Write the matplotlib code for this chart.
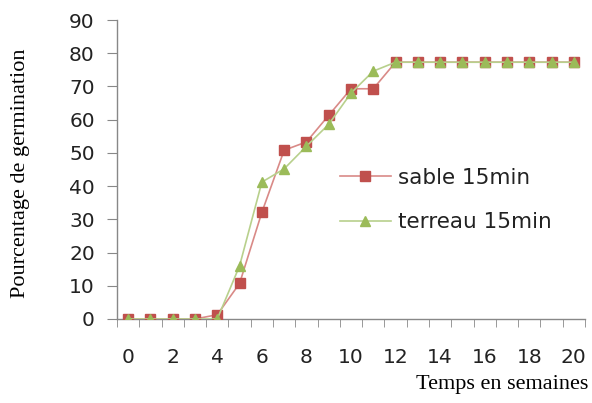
import matplotlib
matplotlib.use("Agg")
import matplotlib.pyplot as plt
import numpy as np

weeks = list(range(0, 21))
sable = [0, 0, 0, 0, 1.3, 10.7, 32.1, 50.8, 53.3, 61.3, 69.3, 69.3,
         77.3, 77.3, 77.3, 77.3, 77.3, 77.3, 77.3, 77.3, 77.3]
terreau = [0, 0, 0, 0, 0, 16.0, 41.2, 45.2, 52.0, 58.6, 68.0, 74.6,
           77.3, 77.3, 77.3, 77.3, 77.3, 77.3, 77.3, 77.3, 77.3]
x_ticklabels = [str(w) for w in weeks[::2]]
y_ticks = list(range(0, 91, 10))

fig = plt.figure(figsize=(5.92, 4.03), dpi=100)
ax = fig.add_axes([117/592, 1 - 319/403, (585-117)/592, (319-20)/403])

ax.plot(weeks, sable, color="#D98A87", lw=1.2, marker="s", ms=6.5,
        mfc="#C0504D", mec="#C0504D", label="sable 15min", zorder=3)
ax.plot(weeks, terreau, color="#B8D08C", lw=1.2, marker="^", ms=7,
        mfc="#9BBB59", mec="#9BBB59", label="terreau 15min", zorder=3)

tick_font = {"family": "DejaVu Sans", "size": 14.5}
ax.set_xlim(-0.5, 20.5)
ax.set_ylim(0, 90)
ax.set_yticks(y_ticks)
ax.set_yticklabels([str(v) for v in y_ticks], color="#222222", **tick_font)
ax.set_xticks(weeks[::2])
ax.set_xticklabels(x_ticklabels, color="#222222", **tick_font)
ax.tick_params(axis="x", which="major", length=0, pad=21)
ax.set_xticks(np.arange(-0.5, 21, 1), minor=True)
ax.tick_params(axis="x", which="minor", length=6, color="#888888", direction="out")
ax.tick_params(axis="y", length=7, color="#888888", direction="out", pad=9)

for s in ["top", "right"]:
    ax.spines[s].set_visible(False)
for s in ["left", "bottom"]:
    ax.spines[s].set_color("#888888")
    ax.spines[s].set_linewidth(1.0)

fig.text(588/592, 1 - 385/403, "Temps en semaines", family="Liberation Serif",
         fontsize=16, ha="right", va="center")
fig.text(21/592, 1 - 173/403, "Pourcentage de germination", family="Liberation Serif",
         fontsize=16, rotation=90, ha="center", va="center")

leg = ax.legend(loc="center left", frameon=False,
                prop={"family": "DejaVu Sans", "size": 15.5},
                handlelength=2.4, handletextpad=0.3, labelspacing=1.15, borderaxespad=0)
leg.set_bbox_to_anchor((331/592, 1 - 200/403), transform=fig.transFigure)
for t in leg.get_texts():
    t.set_color("#222222")

fig.savefig("out.png", dpi=100)
